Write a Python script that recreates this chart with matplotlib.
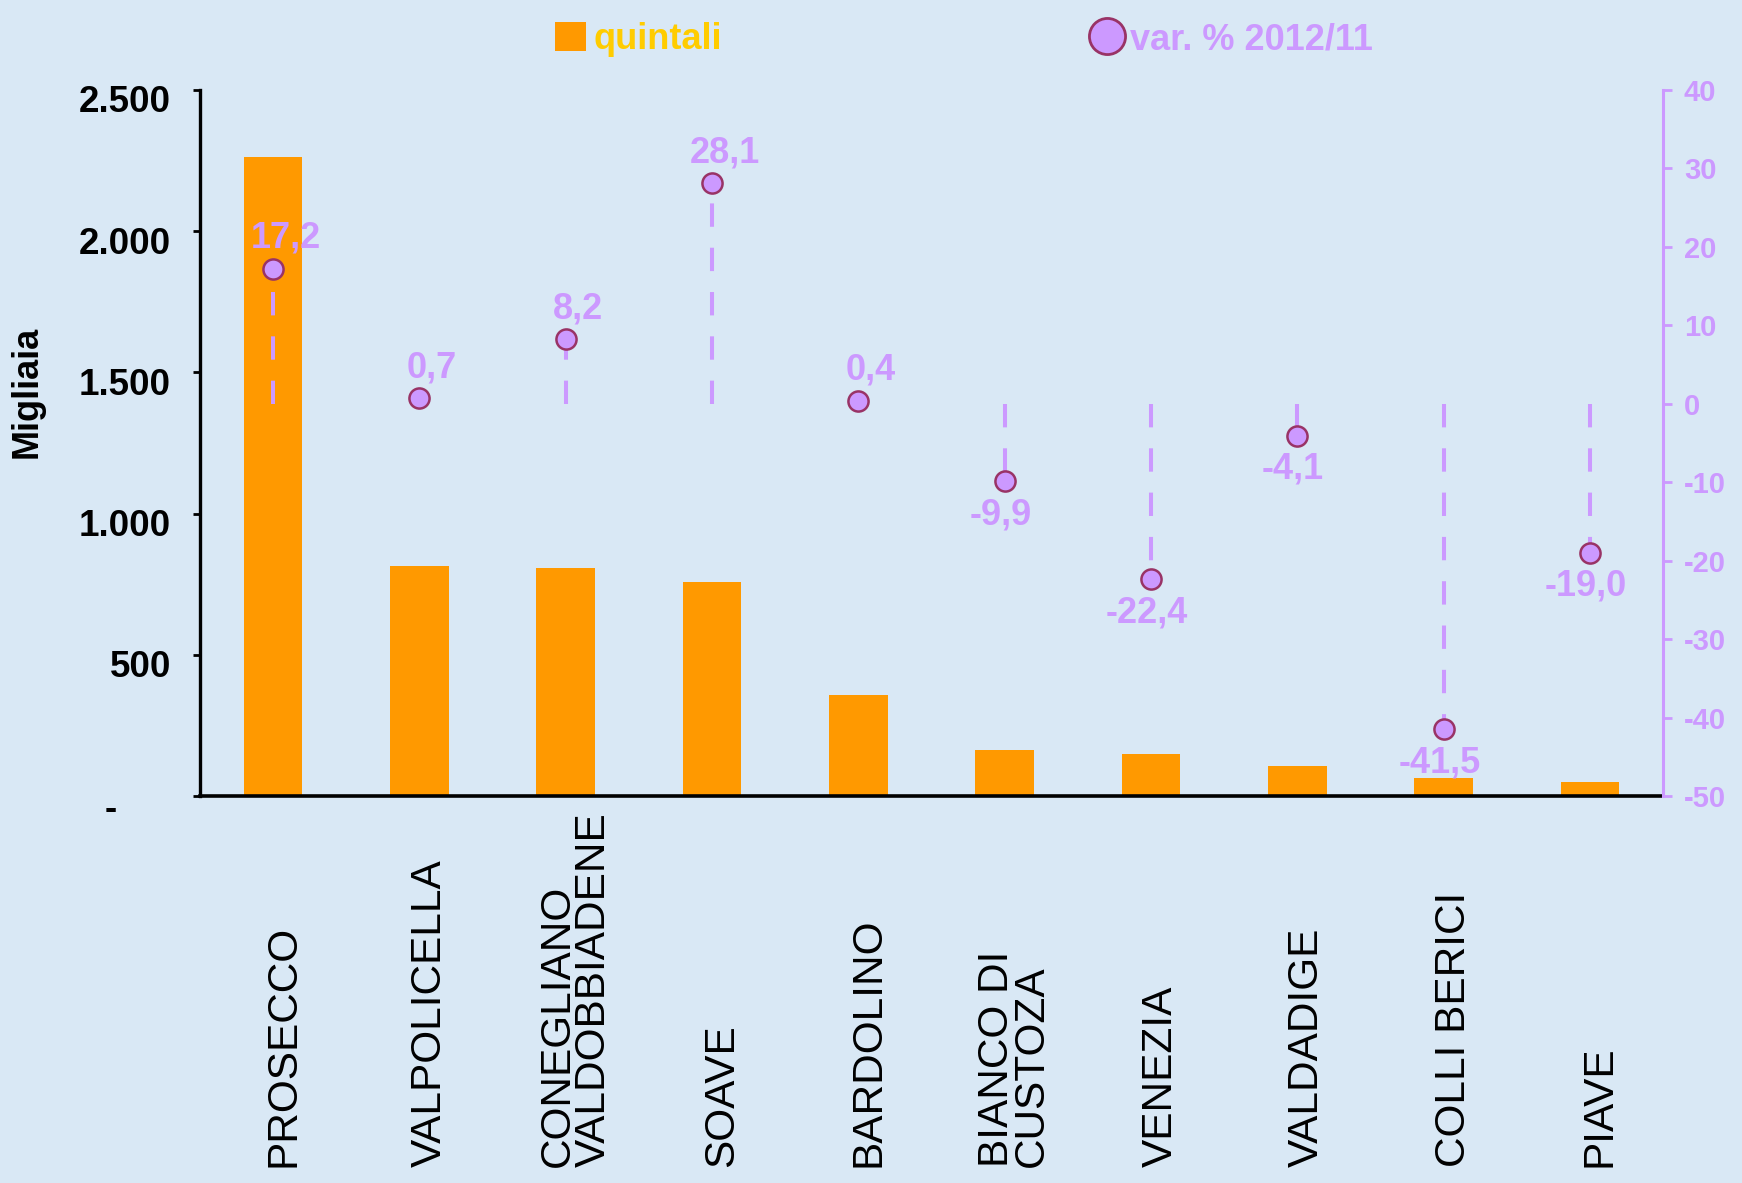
import matplotlib
matplotlib.use('Agg')
import matplotlib.pyplot as plt
import matplotlib.transforms as mtransforms
from matplotlib.lines import Line2D
from matplotlib.patches import Patch

plt.rcParams['font.family'] = ['Liberation Sans', 'DejaVu Sans']
plt.rcParams['axes.unicode_minus'] = False

# data
categories = ['PROSECCO', 'VALPOLICELLA', 'CONEGLIANO\nVALDOBBIADENE', 'SOAVE',
              'BARDOLINO', 'BIANCO DI\nCUSTOZA', 'VENEZIA', 'VALDADIGE',
              'COLLI BERICI', 'PIAVE']
quintali = [2263, 816, 808, 758, 356, 163, 147, 108, 65, 50]   # migliaia
var_pct = [17.2, 0.7, 8.2, 28.1, 0.4, -9.9, -22.4, -4.1, -41.5, -19.0]

left_ticks = [0, 500, 1000, 1500, 2000, 2500]
left_labels = ['-', '500', '1.000', '1.500', '2.000', '2.500']
right_ticks = [-50, -40, -30, -20, -10, 0, 10, 20, 30, 40]

ORANGE = '#ff9900'
LILAC = '#cc99ff'
PLUM = '#993366'
GOLD = '#ffcc00'
BG = '#d9e8f5'

W, H = 1742, 1183
fig = plt.figure(figsize=(W / 100, H / 100), dpi=100, facecolor=BG)
ax = fig.add_axes([200 / W, 1 - 796 / H, 1463 / W, 706 / H])
ax.patch.set_visible(False)

x = list(range(len(categories)))
ax.bar(x, quintali, width=0.4, color=ORANGE, zorder=2)
ax.set_xlim(-0.5, len(categories) - 0.5)
ax.set_ylim(0, 2500)
ax.set_xticks([])
ax.set_yticks(left_ticks, left_labels)
for s in ['top', 'right']:
    ax.spines[s].set_visible(False)
ax.spines['left'].set_linewidth(2.4)
ax.spines['bottom'].set_linewidth(2.6)
ax.tick_params(axis='y', length=5, width=2, pad=16, labelsize=26.5)

down = mtransforms.ScaledTranslation(0, -9 / 100, fig.dpi_scale_trans)
dash_shift = mtransforms.ScaledTranslation(-54 / 100, -1 / 100, fig.dpi_scale_trans)
for lab in ax.get_yticklabels():
    lab.set_fontweight('bold')
    tr = lab.get_transform() + down
    if lab.get_text() == '-':
        tr = tr + dash_shift
    lab.set_transform(tr)

ax.set_ylabel('Migliaia', fontsize=26, fontweight='bold')
ax.yaxis.set_label_coords(-0.106, 0.572)

# right axis: percentage change
ax2 = ax.twinx()
ax2.patch.set_visible(False)
ax2.set_ylim(-50, 40)
ax2.set_yticks(right_ticks)
for s in ['top', 'left', 'bottom']:
    ax2.spines[s].set_visible(False)
ax2.spines['right'].set_color(LILAC)
ax2.spines['right'].set_linewidth(2.2)
ax2.tick_params(axis='y', colors=LILAC, length=6.5, width=2, pad=8.5, labelsize=21)
for lab in ax2.get_yticklabels():
    lab.set_fontweight('bold')

ax2.vlines(x, 0, var_pct, colors=LILAC, linewidth=2.9,
           linestyles=[(0, (5.8, 5.2))], zorder=2)
ax2.plot(x, var_pct, ls='none', marker='o', ms=14.5, mfc=LILAC, mec=PLUM,
         mew=1.8, zorder=3)
for xi, v in zip(x, var_pct):
    txt = f'{v:.1f}'.replace('.', ',')
    off = (9, 22) if v >= 0 else (-3, -24)
    ax2.annotate(txt, (xi, v), xytext=off, textcoords='offset points',
                 ha='center', va='center', color=LILAC, fontsize=26,
                 fontweight='bold', zorder=4)

# category names, bottom aligned
lab_tr = (mtransforms.blended_transform_factory(ax.transData, fig.transFigure)
          + mtransforms.ScaledTranslation(10 / 100, 0, fig.dpi_scale_trans))
for xi, name in zip(x, categories):
    ax.text(xi, 16 / H, name, transform=lab_tr, rotation=90, ha='center',
            va='bottom', multialignment='left', fontsize=30.5, linespacing=0.85,
            clip_on=False)

handles = [Patch(facecolor=ORANGE, edgecolor='none'),
           Line2D([], [], ls='none', marker='o', ms=26, mfc=LILAC, mec=PLUM, mew=2)]
leg = fig.legend(handles, ['quintali', 'var. % 2012/11'], loc='upper left',
                 bbox_to_anchor=(555 / W, 1 - 22 / H), ncol=2, frameon=False,
                 prop={'size': 26, 'weight': 'bold'}, handlelength=0.86,
                 handleheight=0.86, handletextpad=0.2, columnspacing=10.25,
                 borderpad=0, borderaxespad=0)
for t, c in zip(leg.get_texts(), [GOLD, LILAC]):
    t.set_color(c)

fig.savefig('out.png', dpi=100, facecolor=BG)
